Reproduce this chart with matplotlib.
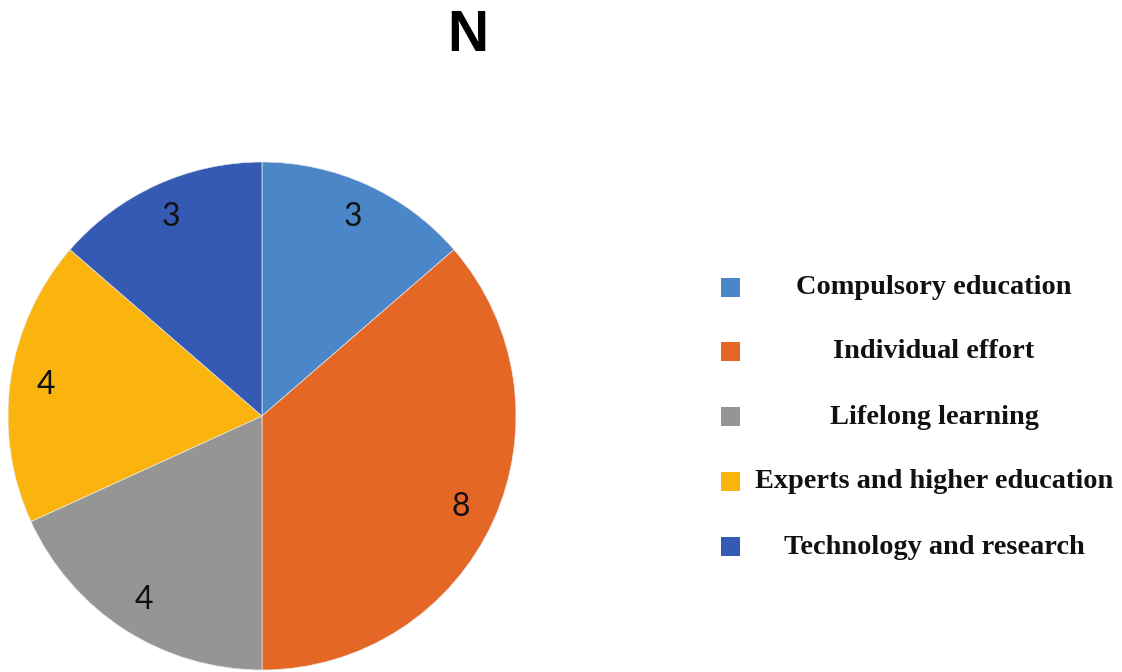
import matplotlib.pyplot as plt
from matplotlib.patches import Rectangle

categories = ['Compulsory education', 'Individual effort', 'Lifelong learning',
              'Experts and higher education', 'Technology and research']
counts = [3, 8, 4, 4, 3]
slice_colors = ['#4A86C8', '#E46726', '#959595', '#FBB40D', '#355AB4']

W, H = 1122, 672
fig = plt.figure(figsize=(W / 100, H / 100), dpi=100)
fig.patch.set_facecolor('white')

# pie placed by pixel: centre (262, 416), radius 254
cx, cy, r = 262, 416, 254
ax = fig.add_axes([(cx - r) / W, (H - cy - r) / H, 2 * r / W, 2 * r / H])
wedges, texts = ax.pie(counts, colors=slice_colors, startangle=90, counterclock=False,
                       labels=[str(c) for c in counts], labeldistance=0.86,
                       textprops=dict(fontsize=23, family='Lato', color='#111111'),
                       wedgeprops=dict(linewidth=0.5, edgecolor='#e8e8e8'))
for t in texts:
    t.set_ha('center')
    t.set_va('center')
ax.set_xlim(-1, 1)
ax.set_ylim(-1, 1)
ax.set_aspect('auto')
ax.axis('off')

fig.text(468 / W, 1 - 36 / H, 'N', ha='center', va='center',
         fontsize=41, fontweight='bold', family='Liberation Sans')

# legend drawn by hand, text centred in its column
row_y = [288, 352, 417, 482, 547]
for lab, col, y in zip(categories, slice_colors, row_y):
    fig.add_artist(Rectangle((721 / W, 1 - (y + 9) / H), 19 / W, 19 / H,
                             transform=fig.transFigure, facecolor=col, edgecolor='none'))
    fig.text(934 / W, 1 - y / H, lab, ha='center', va='center', fontsize=20.4,
             fontweight='bold', family='Liberation Serif', color='#111111')

fig.savefig('out.png', dpi=100)
